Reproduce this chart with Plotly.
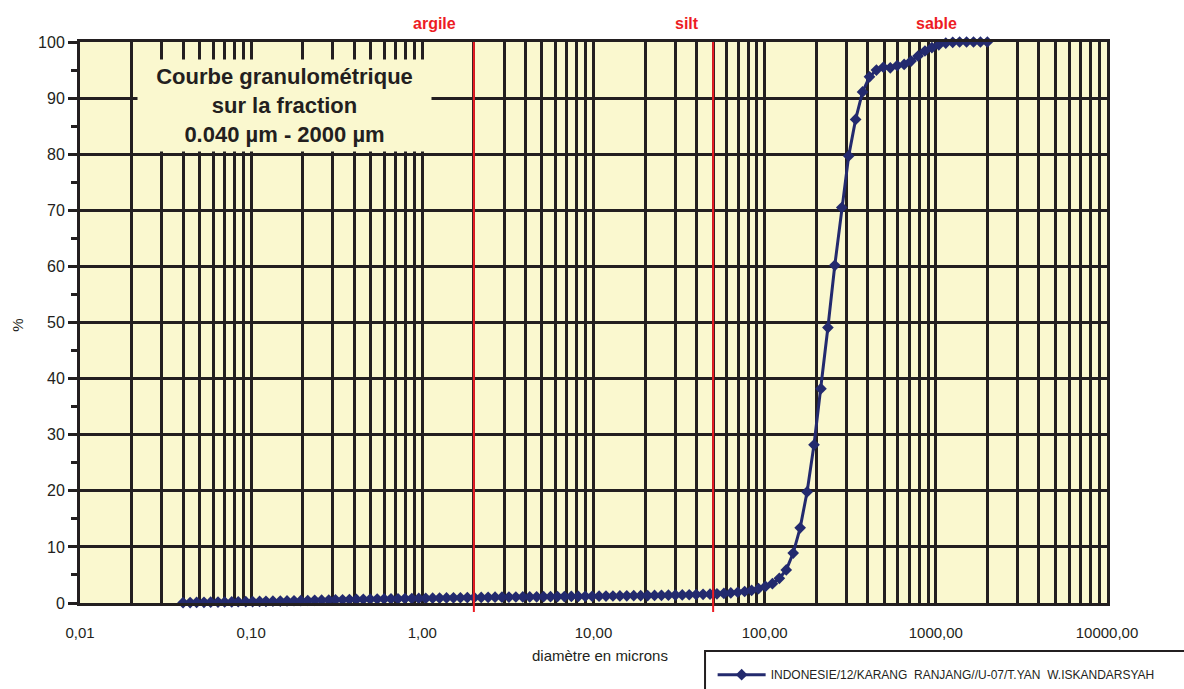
import plotly.graph_objects as go

# Particle diameters (µm) of the analyser channels
diametre = [
    0.040, 0.044, 0.048, 0.053, 0.058, 0.064, 0.070, 0.077, 0.084, 0.093,
    0.102, 0.112, 0.122, 0.134, 0.148, 0.162, 0.178, 0.195, 0.214, 0.235,
    0.258, 0.284, 0.311, 0.342, 0.375, 0.412, 0.452, 0.496, 0.545, 0.598,
    0.656, 0.721, 0.791, 0.868, 0.953, 1.047, 1.149, 1.261, 1.385, 1.520,
    1.669, 1.832, 2.011, 2.208, 2.423, 2.660, 2.920, 3.206, 3.519, 3.863,
    4.240, 4.655, 5.110, 5.610, 6.158, 6.760, 7.421, 8.147, 8.943, 9.817,
    10.78, 11.83, 12.99, 14.26, 15.65, 17.18, 18.86, 20.71, 22.73, 24.95,
    27.39, 30.07, 33.01, 36.24, 39.78, 43.67, 47.94, 52.62, 57.77, 63.41,
    69.61, 76.42, 83.89, 92.09, 101.1, 111.0, 121.8, 133.7, 146.8, 161.2,
    176.9, 194.2, 213.2, 234.1, 256.9, 282.1, 309.6, 339.9, 373.1, 409.6,
    449.7, 493.6, 541.9, 594.9, 653.0, 716.9, 786.9, 863.9, 948.3, 1041,
    1143, 1255, 1377, 1512, 1660, 1822, 2000,
]

# Cumulative passing (%)
cumul = [
    0.05, 0.08, 0.10, 0.12, 0.14, 0.16, 0.18, 0.20, 0.22, 0.24,
    0.26, 0.28, 0.30, 0.32, 0.34, 0.37, 0.40, 0.42, 0.45, 0.48,
    0.50, 0.53, 0.56, 0.58, 0.61, 0.63, 0.66, 0.68, 0.70, 0.72,
    0.74, 0.76, 0.78, 0.80, 0.82, 0.84, 0.86, 0.88, 0.90, 0.92,
    0.94, 0.96, 0.98, 1.00, 1.01, 1.03, 1.04, 1.05, 1.07, 1.08,
    1.09, 1.10, 1.12, 1.13, 1.14, 1.15, 1.17, 1.18, 1.19, 1.20,
    1.22, 1.23, 1.25, 1.26, 1.28, 1.30, 1.31, 1.33, 1.35, 1.37,
    1.39, 1.41, 1.44, 1.47, 1.50, 1.54, 1.58, 1.63, 1.70, 1.80,
    1.92, 2.05, 2.25, 2.55, 2.95, 3.45, 4.40, 5.90, 8.90, 13.4,
    19.8, 28.2, 38.2, 49.1, 60.2, 70.5, 79.7, 86.2, 91.1, 93.8,
    95.0, 95.5, 95.4, 95.8, 96.0, 96.6, 97.5, 98.4, 99.0, 99.5,
    99.8, 99.95, 100, 100, 100, 100, 100,
]

serie_nom = "INDONESIE/12/KARANG  RANJANG//U-07/T.YAN  W.ISKANDARSYAH"

# Class limits (µm) and their labels
limites = [2, 50]
classes = ["argile", "silt", "sable"]
classes_pos = [0.345, 0.591, 0.834]   # paper x of the class labels

x_ticks = [0.01, 0.1, 1, 10, 100, 1000, 10000]
x_ticktext = ["0,01", "0,10", "1,00", "10,00", "100,00", "1000,00", "10000,00"]

FOND = "#FAF8CF"
GRILLE = "#231F20"
BLEU = "#232A6E"
ROUGE = "#ED1C24"
POLICE = "Liberation Sans, Arial, sans-serif"

fig = go.Figure()

fig.add_trace(go.Scatter(
    x=diametre, y=cumul, mode="lines+markers", name=serie_nom,
    line=dict(color=BLEU, width=3),
    marker=dict(symbol="diamond", size=9, color=BLEU),
    cliponaxis=False,
))

for lim in limites:
    fig.add_shape(type="line", xref="x", yref="paper", x0=lim, x1=lim,
                  y0=-0.016, y1=1, line=dict(color=ROUGE, width=2), layer="above")

for txt, px in zip(classes, classes_pos):
    fig.add_annotation(text="<b>%s</b>" % txt, xref="paper", yref="paper",
                       x=px, y=1.033, xanchor="center", yanchor="middle",
                       showarrow=False,
                       font=dict(family=POLICE, size=16, color=ROUGE))

# Title box over the grid
fig.add_annotation(
    text="<b>Courbe granulométrique<br>sur la fraction<br>0.040 µm - 2000 µm</b>",
    xref="paper", yref="paper", x=0.199, y=0.886,
    xanchor="center", yanchor="middle", showarrow=False,
    font=dict(family=POLICE, size=22, color=GRILLE),
    bgcolor=FOND, width=291, height=89, borderpad=1, align="center",
)

# Axis titles
fig.add_annotation(text="%", xref="paper", yref="paper", x=-0.061, y=0.495,
                   xanchor="center", yanchor="middle",
                   showarrow=False, textangle=-90,
                   font=dict(family=POLICE, size=15, color=GRILLE))
fig.add_annotation(text="diamètre en microns", xref="paper", yref="paper",
                   x=0.506, y=-0.094, xanchor="center", yanchor="middle",
                   showarrow=False,
                   font=dict(family=POLICE, size=15, color=GRILLE))

# Legend frame
fig.add_shape(type="rect", xref="paper", yref="paper",
              x0=0.6086, x1=1.09, y0=-0.18, y1=-0.0856,
              line=dict(color=GRILLE, width=2), fillcolor="white", layer="below")

fig.update_layout(
    width=1184, height=689,
    margin=dict(l=80, r=77, t=42, b=86, autoexpand=False),
    paper_bgcolor="white", plot_bgcolor=FOND,
    font=dict(family=POLICE, size=15, color=GRILLE),
    showlegend=True,
    legend=dict(x=0.616, y=-0.102, xanchor="left", yanchor="top",
                bgcolor="rgba(0,0,0,0)", borderwidth=0, itemwidth=48,
                font=dict(family=POLICE, size=12, color=GRILLE)),
    xaxis=dict(
        type="log", range=[-2, 4], tickmode="array", tickvals=x_ticks,
        ticktext=x_ticktext, ticks="", ticklabelstandoff=14,
        showgrid=True, gridcolor=GRILLE, gridwidth=3,
        minor=dict(dtick="D1", showgrid=True, gridcolor=GRILLE, gridwidth=3),
        showline=True, linecolor=GRILLE, linewidth=3, mirror=True,
        zeroline=False,
    ),
    yaxis=dict(
        range=[0, 100], dtick=10, ticks="outside", ticklen=9, tickwidth=3,
        tickcolor=GRILLE, tickfont=dict(size=16),
        minor=dict(dtick=5, ticks="outside", ticklen=6, tickwidth=3,
                   tickcolor=GRILLE, showgrid=False),
        showgrid=True, gridcolor=GRILLE, gridwidth=3,
        showline=True, linecolor=GRILLE, linewidth=3, mirror=True,
        zeroline=False,
    ),
)

fig.write_html("out.html")
